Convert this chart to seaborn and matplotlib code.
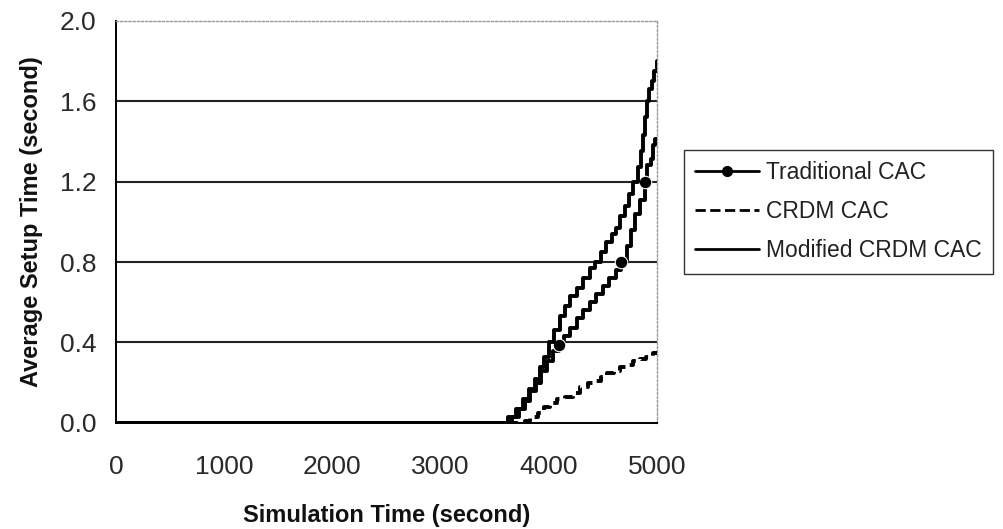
import matplotlib
matplotlib.use("Agg")
import matplotlib.pyplot as plt
import seaborn as sns

# Simulation time (s) and average setup time (s) for each admission-control scheme
trad_t = [0, 3600, 3660, 3720, 3780, 3830, 3880, 3930, 3980, 4040, 4090, 4140, 4200,
          4260, 4320, 4380, 4440, 4500, 4560, 4620, 4670, 4720, 4760, 4800, 4840,
          4890, 4910, 4940, 4960, 4980, 5000]
trad_v = [0.00, 0.00, 0.03, 0.07, 0.11, 0.16, 0.20, 0.26, 0.31, 0.36, 0.39, 0.43, 0.47,
          0.52, 0.56, 0.60, 0.64, 0.68, 0.72, 0.76, 0.80, 0.88, 0.96, 1.04, 1.11,
          1.20, 1.28, 1.31, 1.38, 1.41, 1.41]

crdm_t = [0, 3720, 3780, 3830, 3900, 3960, 4010, 4080, 4150, 4220, 4290, 4360, 4420,
          4480, 4540, 4600, 4660, 4720, 4780, 4840, 4900, 4960, 5000]
crdm_v = [0.00, 0.00, 0.01, 0.03, 0.05, 0.08, 0.10, 0.12, 0.13, 0.15, 0.18, 0.20, 0.21,
          0.23, 0.25, 0.26, 0.28, 0.29, 0.31, 0.32, 0.33, 0.35, 0.36]

mod_t = [0, 3550, 3620, 3700, 3760, 3820, 3870, 3920, 3960, 4000, 4050, 4100, 4150,
         4200, 4260, 4320, 4380, 4430, 4480, 4530, 4580, 4620, 4660, 4700, 4740,
         4780, 4820, 4850, 4870, 4890, 4910, 4930, 4950, 4970, 5000]
mod_v = [0.00, 0.00, 0.03, 0.07, 0.12, 0.17, 0.22, 0.28, 0.33, 0.40, 0.46, 0.53, 0.58,
         0.63, 0.67, 0.72, 0.77, 0.80, 0.85, 0.90, 0.94, 0.97, 1.03, 1.08, 1.14,
         1.20, 1.27, 1.35, 1.43, 1.52, 1.60, 1.66, 1.70, 1.75, 1.80]

trad_marks = [10, 20, 25]  # indices of the plotted markers on the traditional curve

x_ticks = [0, 1000, 2000, 3000, 4000, 5000]
y_ticks = [0.0, 0.4, 0.8, 1.2, 1.6, 2.0]

sns.set_style("white")
plt.rcParams["font.family"] = ["Liberation Sans", "DejaVu Sans"]

fig = plt.figure(figsize=(10.04, 5.29), dpi=100)
ax = fig.add_axes([0.1155, 0.2004, 0.5389, 0.7608])

# horizontal reference lines
for yv in y_ticks[1:-1]:
    ax.axhline(yv, color="#222222", lw=1.5, zorder=1)

line_kw = dict(ax=ax, color="black", lw=2.8, estimator=None, sort=False, zorder=3)
sns.lineplot(x=trad_t, y=trad_v, label="Traditional CAC", **line_kw)
sns.lineplot(x=crdm_t, y=crdm_v, label="CRDM CAC", **line_kw)
sns.lineplot(x=mod_t, y=mod_v, label="Modified CRDM CAC", **line_kw)

trad_line, crdm_line, mod_line = [l for l in ax.lines if l.get_label() in
                                  ("Traditional CAC", "CRDM CAC", "Modified CRDM CAC")]
for ln in (trad_line, crdm_line, mod_line):
    ln.set_drawstyle("steps-post")
trad_line.set_marker("o")
trad_line.set_markersize(9)
trad_line.set_markevery(trad_marks)
crdm_line.set_linestyle((0, (2.6, 1.6)))

ax.set_xlim(0, 5000)
ax.set_ylim(0, 2.0)
ax.set_xticks(x_ticks)
ax.set_yticks(y_ticks)
ax.set_yticklabels([f"{v:.1f}" for v in y_ticks])
ax.tick_params(axis="both", direction="out", length=9, width=1.2, color="black",
               labelsize=19, labelcolor="#2a2a2a", pad=5)
ax.tick_params(axis="x", pad=14)

for side in ("left", "bottom"):
    ax.spines[side].set_color("black")
    ax.spines[side].set_linewidth(1.4)
for side in ("top", "right"):
    ax.spines[side].set_color("#999999")
    ax.spines[side].set_linewidth(1.0)
    ax.spines[side].set_linestyle((0, (1.5, 1.5)))

ax.set_xlabel("Simulation Time (second)", fontsize=17, fontweight="bold",
              labelpad=18, color="#111111")
ax.set_ylabel("Average Setup Time (second)", fontsize=17, fontweight="bold",
              labelpad=12, color="#111111")

ax.get_legend().remove()
handles = []
for ln in (trad_line, crdm_line, mod_line):
    h = matplotlib.lines.Line2D([], [], color="black", lw=2.0,
                                linestyle=ln.get_linestyle(), label=ln.get_label())
    handles.append(h)
handles[0].set_marker("o")
handles[0].set_markersize(7)
handles[0].set_markevery([1])
leg = fig.legend(handles=handles, loc="center left",
                 bbox_to_anchor=(0.681, 0.600), fontsize=16.5,
                 frameon=True, fancybox=False, edgecolor="black",
                 handlelength=2.8, handletextpad=0.3, labelspacing=0.7,
                 borderpad=0.5, borderaxespad=0)
leg.get_frame().set_linewidth(1.0)
for t in leg.get_texts():
    t.set_color("#222222")

fig.savefig("out.png", dpi=100)
